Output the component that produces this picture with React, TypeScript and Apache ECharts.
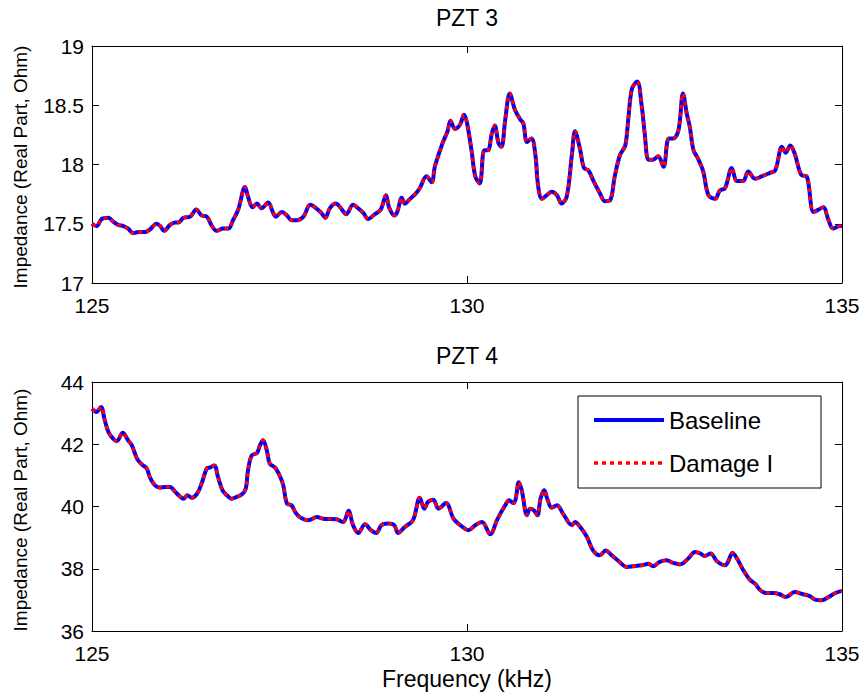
import React, { useEffect, useRef } from "react";
import * as echarts from "echarts";

// ---------- PZT 3 (top panel) ----------
const freq3 = [
  125.00, 125.06, 125.13, 125.22, 125.28, 125.35, 125.42, 125.48, 125.55, 125.62,
  125.71, 125.77, 125.86, 125.91, 125.96, 126.04, 126.11, 126.15, 126.22, 126.31,
  126.39, 126.46, 126.53, 126.60, 126.66, 126.75, 126.82, 126.88, 126.95, 127.04,
  127.08, 127.14, 127.20, 127.26, 127.35, 127.41, 127.45, 127.53, 127.60, 127.66,
  127.73, 127.82, 127.91, 127.99, 128.06, 128.11, 128.17, 128.25, 128.32, 128.39,
  128.48, 128.55, 128.62, 128.68, 128.77, 128.85, 128.92, 128.96, 129.03, 129.07,
  129.13, 129.17, 129.24, 129.31, 129.37, 129.46, 129.53, 129.57, 129.62, 129.68,
  129.74, 129.78, 129.84, 129.91, 129.96, 130.00, 130.06, 130.11, 130.17, 130.23,
  130.28, 130.33, 130.37, 130.42, 130.46, 130.51, 130.57, 130.64, 130.71, 130.75,
  130.80, 130.86, 130.91, 130.95, 131.00, 131.06, 131.13, 131.20, 131.26, 131.33,
  131.40, 131.44, 131.51, 131.56, 131.62, 131.68, 131.77, 131.84, 131.91, 131.97,
  132.04, 132.11, 132.15, 132.20, 132.27, 132.33, 132.37, 132.42, 132.48, 132.55,
  132.62, 132.69, 132.75, 132.82, 132.88, 132.93, 132.97, 133.02, 133.08, 133.15,
  133.22, 133.31, 133.37, 133.44, 133.53, 133.60, 133.68, 133.75, 133.84, 133.93,
  134.04, 134.11, 134.20, 134.25, 134.31, 134.37, 134.46, 134.53, 134.62, 134.69,
  134.75, 134.82, 134.88, 134.97, 135.00,
];
const pzt3Baseline = [
  17.50, 17.48, 17.54, 17.55, 17.52, 17.49, 17.48, 17.46, 17.42, 17.43,
  17.43, 17.45, 17.50, 17.48, 17.44, 17.49, 17.51, 17.51, 17.55, 17.56,
  17.62, 17.57, 17.56, 17.48, 17.44, 17.46, 17.46, 17.53, 17.62, 17.81,
  17.73, 17.64, 17.67, 17.63, 17.68, 17.60, 17.56, 17.60, 17.57, 17.53,
  17.53, 17.56, 17.66, 17.63, 17.59, 17.55, 17.63, 17.67, 17.63, 17.58,
  17.66, 17.63, 17.59, 17.54, 17.58, 17.62, 17.74, 17.64, 17.57, 17.60,
  17.72, 17.67, 17.71, 17.75, 17.80, 17.90, 17.85, 17.98, 18.08, 18.19,
  18.28, 18.37, 18.30, 18.34, 18.42, 18.35, 18.12, 17.90, 17.84, 18.12,
  18.12, 18.26, 18.33, 18.18, 18.15, 18.38, 18.60, 18.46, 18.38, 18.35,
  18.19, 18.22, 18.09, 17.81, 17.71, 17.74, 17.77, 17.74, 17.67, 17.73,
  18.09, 18.28, 18.12, 17.97, 17.95, 17.87, 17.76, 17.69, 17.70, 17.90,
  18.08, 18.16, 18.38, 18.64, 18.70, 18.49, 18.26, 18.04, 18.04, 18.07,
  17.98, 18.22, 18.22, 18.29, 18.60, 18.43, 18.32, 18.12, 18.05, 17.94,
  17.74, 17.71, 17.78, 17.80, 17.97, 17.86, 17.86, 17.94, 17.88, 17.90,
  17.93, 17.95, 18.15, 18.10, 18.16, 18.09, 17.91, 17.90, 17.60, 17.62,
  17.64, 17.53, 17.46, 17.48, 17.48,
];
const pzt3DamageI = [
  17.50, 17.48, 17.54, 17.55, 17.52, 17.49, 17.48, 17.46, 17.42, 17.43,
  17.43, 17.45, 17.50, 17.48, 17.44, 17.49, 17.51, 17.51, 17.55, 17.56,
  17.62, 17.57, 17.56, 17.48, 17.44, 17.46, 17.46, 17.53, 17.62, 17.81,
  17.73, 17.64, 17.67, 17.63, 17.68, 17.60, 17.56, 17.60, 17.57, 17.53,
  17.53, 17.56, 17.66, 17.63, 17.59, 17.55, 17.63, 17.67, 17.63, 17.58,
  17.66, 17.63, 17.59, 17.54, 17.58, 17.62, 17.74, 17.64, 17.57, 17.60,
  17.72, 17.67, 17.71, 17.75, 17.80, 17.90, 17.85, 17.98, 18.08, 18.19,
  18.28, 18.37, 18.30, 18.34, 18.42, 18.35, 18.12, 17.90, 17.84, 18.12,
  18.12, 18.26, 18.33, 18.18, 18.15, 18.38, 18.60, 18.46, 18.38, 18.35,
  18.19, 18.22, 18.09, 17.81, 17.71, 17.74, 17.77, 17.74, 17.67, 17.73,
  18.09, 18.28, 18.12, 17.97, 17.95, 17.87, 17.76, 17.69, 17.70, 17.90,
  18.08, 18.16, 18.38, 18.64, 18.70, 18.49, 18.26, 18.04, 18.04, 18.07,
  17.98, 18.22, 18.22, 18.29, 18.60, 18.43, 18.32, 18.12, 18.05, 17.94,
  17.74, 17.71, 17.78, 17.80, 17.97, 17.86, 17.86, 17.94, 17.88, 17.90,
  17.93, 17.95, 18.15, 18.10, 18.16, 18.09, 17.91, 17.90, 17.60, 17.62,
  17.64, 17.53, 17.46, 17.48, 17.48,
];

// ---------- PZT 4 (bottom panel) ----------
const freq4 = [
  125.00, 125.06, 125.12, 125.17, 125.22, 125.28, 125.33, 125.41, 125.48, 125.53,
  125.60, 125.66, 125.73, 125.77, 125.84, 125.91, 125.97, 126.04, 126.11, 126.17,
  126.22, 126.27, 126.33, 126.40, 126.46, 126.53, 126.57, 126.63, 126.68, 126.74,
  126.80, 126.86, 126.93, 127.00, 127.05, 127.08, 127.13, 127.20, 127.24, 127.28,
  127.33, 127.37, 127.44, 127.51, 127.55, 127.60, 127.66, 127.71, 127.77, 127.88,
  128.00, 128.08, 128.26, 128.35, 128.42, 128.48, 128.55, 128.64, 128.72, 128.79,
  128.86, 128.95, 129.03, 129.08, 129.17, 129.28, 129.37, 129.43, 129.48, 129.55,
  129.62, 129.72, 129.82, 129.91, 130.02, 130.11, 130.20, 130.31, 130.40, 130.44,
  130.51, 130.56, 130.62, 130.65, 130.69, 130.73, 130.80, 130.84, 130.89, 130.94,
  130.98, 131.03, 131.07, 131.13, 131.20, 131.28, 131.40, 131.44, 131.51, 131.60,
  131.68, 131.77, 131.85, 131.93, 132.02, 132.13, 132.22, 132.33, 132.42, 132.48,
  132.57, 132.66, 132.75, 132.84, 132.95, 133.04, 133.11, 133.17, 133.25, 133.33,
  133.44, 133.48, 133.54, 133.60, 133.68, 133.77, 133.84, 133.91, 133.99, 134.08,
  134.17, 134.25, 134.37, 134.48, 134.57, 134.64, 134.73, 134.82, 134.91, 135.00,
];
const pzt4Baseline = [
  43.14, 43.04, 43.20, 42.77, 42.39, 42.18, 42.10, 42.37, 42.13, 41.97,
  41.54, 41.36, 41.22, 40.95, 40.68, 40.61, 40.63, 40.63, 40.47, 40.33,
  40.25, 40.36, 40.28, 40.41, 40.73, 41.22, 41.25, 41.32, 40.95, 40.52,
  40.36, 40.25, 40.31, 40.39, 40.57, 41.16, 41.64, 41.72, 41.97, 42.13,
  41.81, 41.38, 41.25, 40.95, 40.68, 40.09, 40.04, 39.82, 39.66, 39.56,
  39.66, 39.61, 39.59, 39.50, 39.86, 39.40, 39.15, 39.43, 39.24, 39.15,
  39.40, 39.45, 39.40, 39.15, 39.34, 39.56, 40.28, 39.93, 40.15, 40.22,
  39.93, 40.11, 39.61, 39.40, 39.24, 39.40, 39.50, 39.11, 39.56, 39.75,
  40.04, 40.20, 40.11, 40.25, 40.78, 40.52, 39.72, 39.93, 39.88, 39.72,
  40.25, 40.52, 40.25, 39.96, 40.04, 39.77, 39.40, 39.50, 39.34, 39.02,
  38.59, 38.43, 38.59, 38.43, 38.25, 38.06, 38.08, 38.11, 38.16, 38.08,
  38.22, 38.27, 38.19, 38.14, 38.33, 38.54, 38.49, 38.41, 38.49, 38.25,
  38.11, 38.22, 38.51, 38.33, 37.97, 37.65, 37.52, 37.31, 37.22, 37.22,
  37.18, 37.09, 37.25, 37.18, 37.12, 37.01, 36.99, 37.09, 37.22, 37.29,
];
const pzt4DamageI = [
  43.14, 43.04, 43.20, 42.77, 42.39, 42.18, 42.10, 42.37, 42.13, 41.97,
  41.54, 41.36, 41.22, 40.95, 40.68, 40.61, 40.63, 40.63, 40.47, 40.33,
  40.25, 40.36, 40.28, 40.41, 40.73, 41.22, 41.25, 41.32, 40.95, 40.52,
  40.36, 40.25, 40.31, 40.39, 40.57, 41.16, 41.64, 41.72, 41.97, 42.13,
  41.81, 41.38, 41.25, 40.95, 40.68, 40.09, 40.04, 39.82, 39.66, 39.56,
  39.66, 39.61, 39.59, 39.50, 39.86, 39.40, 39.15, 39.43, 39.24, 39.15,
  39.40, 39.45, 39.40, 39.15, 39.34, 39.56, 40.28, 39.93, 40.15, 40.22,
  39.93, 40.11, 39.61, 39.40, 39.24, 39.40, 39.50, 39.11, 39.56, 39.75,
  40.04, 40.20, 40.11, 40.25, 40.78, 40.52, 39.72, 39.93, 39.88, 39.72,
  40.25, 40.52, 40.25, 39.96, 40.04, 39.77, 39.40, 39.50, 39.34, 39.02,
  38.59, 38.43, 38.59, 38.43, 38.25, 38.06, 38.08, 38.11, 38.16, 38.08,
  38.22, 38.27, 38.19, 38.14, 38.33, 38.54, 38.49, 38.41, 38.49, 38.25,
  38.11, 38.22, 38.51, 38.33, 37.97, 37.65, 37.52, 37.31, 37.22, 37.22,
  37.18, 37.09, 37.25, 37.18, 37.12, 37.01, 36.99, 37.09, 37.22, 37.29,
];

const seriesNames = ["Baseline", "Damage I"];
const panelTitles = ["PZT 3", "PZT 4"];
const yAxisTitle = "Impedance (Real Part, Ohm)";
const xAxisTitle = "Frequency (kHz)";

const FONT = "Liberation Sans, Arial, sans-serif";
const FS = 21;

const BLUE = "#0000ff";
const RED = "#ff0000";
const blueStyle = { color: BLUE, width: 4, type: "solid" as const };
const redStyle = { color: RED, width: 3.4, type: [4, 4] };

const zip = (xs: number[], ys: number[]) => xs.map((x, i) => [x, ys[i]]);

export default function App() {
  const ref = useRef<HTMLDivElement>(null);
  useEffect(() => {
    if (!ref.current) return;
    const chart = echarts.init(ref.current, null, { renderer: "svg" });
    const grids = [
      { left: 92, top: 46, width: 750, height: 237 },
      { left: 92, top: 382, width: 750, height: 249 },
    ];
    const yRanges = [
      { min: 17, max: 19, interval: 0.5 },
      { min: 36, max: 44, interval: 2 },
    ];
    const xAxes: any[] = [];
    const yAxes: any[] = [];
    grids.forEach((_, g) => {
      const common = {
        type: "value",
        gridIndex: g,
        min: 125,
        max: 135,
        interval: 5,
        axisLine: { show: true, onZero: false, lineStyle: { color: "#000", width: 1 } },
        axisTick: { show: true, inside: true, length: 7, lineStyle: { color: "#000" } },
        splitLine: { show: false },
      };
      xAxes.push({
        ...common,
        position: "bottom",
        axisLabel: { show: true, color: "#000", fontSize: FS, fontFamily: FONT, margin: 12 },
      });
      xAxes.push({ ...common, position: "top", axisLabel: { show: false } });
      const ycommon = {
        type: "value",
        gridIndex: g,
        ...yRanges[g],
        axisLine: { show: true, onZero: false, lineStyle: { color: "#000", width: 1 } },
        axisTick: { show: true, inside: true, length: 7, lineStyle: { color: "#000" } },
        splitLine: { show: false },
      };
      yAxes.push({
        ...ycommon,
        position: "left",
        axisLabel: { show: true, color: "#000", fontSize: FS, fontFamily: FONT, margin: 8 },
      });
      yAxes.push({ ...ycommon, position: "right", axisLabel: { show: false } });
    });

    const mk = (name: string, g: number, data: number[][], damage: boolean) => ({
      name,
      type: "line",
      xAxisIndex: g * 2,
      yAxisIndex: g * 2,
      data,
      symbol: "none",
      smooth: 0.35,
      z: damage ? 3 : 2,
      lineStyle: damage ? redStyle : blueStyle,
      itemStyle: { color: damage ? RED : BLUE },
    });

    chart.setOption({
      animation: false,
      backgroundColor: "#fff",
      grid: grids,
      xAxis: xAxes,
      yAxis: yAxes,
      legend: {
        data: [
          { name: seriesNames[0], lineStyle: blueStyle, itemStyle: { opacity: 0 } },
          { name: seriesNames[1], lineStyle: redStyle, itemStyle: { opacity: 0 } },
        ],
        orient: "vertical",
        left: 592,
        top: 408,
        z: 20,
        itemWidth: 70,
        itemHeight: 14,
        itemGap: 19,
        padding: 0,
        textStyle: { color: "#000", fontSize: 24, fontFamily: FONT },
        selectedMode: false,
      },
      series: [
        mk(seriesNames[0], 0, zip(freq3, pzt3Baseline), false),
        mk(seriesNames[1], 0, zip(freq3, pzt3DamageI), true),
        mk(seriesNames[0], 1, zip(freq4, pzt4Baseline), false),
        mk(seriesNames[1], 1, zip(freq4, pzt4DamageI), true),
      ],
      graphic: [
        {
          type: "rect",
          z: 5,
          shape: { x: 578, y: 396, width: 243, height: 92 },
          style: { fill: "#fff", stroke: "#000", lineWidth: 1 },
        },
        {
          type: "text",
          x: 467,
          y: 18,
          style: { text: panelTitles[0], fontSize: 23, fontFamily: FONT, fill: "#000", textAlign: "center", textVerticalAlign: "middle" },
        },
        {
          type: "text",
          x: 467,
          y: 356,
          style: { text: panelTitles[1], fontSize: 23, fontFamily: FONT, fill: "#000", textAlign: "center", textVerticalAlign: "middle" },
        },
        {
          type: "text",
          x: 467,
          y: 679,
          style: { text: xAxisTitle, fontSize: 23, fontFamily: FONT, fill: "#000", textAlign: "center", textVerticalAlign: "middle" },
        },
        {
          type: "text",
          x: 20,
          y: 167,
          rotation: Math.PI / 2,
          style: { text: yAxisTitle, fontSize: 19, fontFamily: FONT, fill: "#000", textAlign: "center", textVerticalAlign: "middle" },
        },
        {
          type: "text",
          x: 20,
          y: 510,
          rotation: Math.PI / 2,
          style: { text: yAxisTitle, fontSize: 19, fontFamily: FONT, fill: "#000", textAlign: "center", textVerticalAlign: "middle" },
        },
      ],
    });
    return () => chart.dispose();
  }, []);
  return (
    <div
      ref={ref}
      style={{ position: "fixed", left: 0, top: 0, width: 868, height: 696, background: "#fff" }}
    />
  );
}
